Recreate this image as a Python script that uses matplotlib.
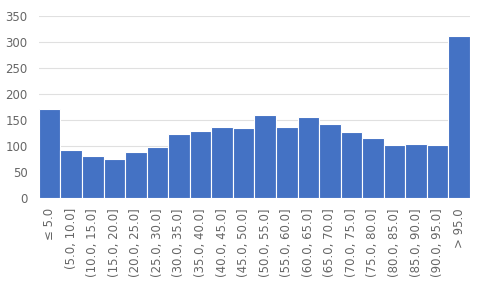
import numpy as np
import matplotlib.pyplot as plt

labels = ["\u2264 5.0", "(5.0, 10.0]", "(10.0, 15.0]", "(15.0, 20.0]", "(20.0, 25.0]",
          "(25.0, 30.0]", "(30.0, 35.0]", "(35.0, 40.0]", "(40.0, 45.0]", "(45.0, 50.0]",
          "(50.0, 55.0]", "(55.0, 60.0]", "(60.0, 65.0]", "(65.0, 70.0]", "(70.0, 75.0]",
          "(75.0, 80.0]", "(80.0, 85.0]", "(85.0, 90.0]", "(90.0, 95.0]", "> 95.0"]
counts = [171, 93, 82, 76, 90, 98, 123, 129, 138, 136,
          160, 138, 156, 143, 127, 116, 103, 104, 103, 311]
yticks = [0, 50, 100, 150, 200, 250, 300, 350]

fig = plt.figure(figsize=(4.8, 2.88), dpi=100)
ax = fig.add_axes([0.081, 0.311, 0.898, 0.633])
x = np.arange(len(counts))
ax.bar(x, counts, width=1.0, color="#4472C4", edgecolor="white", linewidth=0.8, zorder=3)
ax.set_xlim(-0.5, len(counts) - 0.5)
ax.set_ylim(0, 350)
ax.set_yticks(yticks)
ax.set_xticks(x)
ax.set_xticklabels(labels, rotation=90)
ax.grid(axis="y", color="#e0e0e0", linewidth=0.8, zorder=0)
for s in ax.spines.values():
    s.set_visible(False)
ax.tick_params(length=0, colors="#666666", labelsize=8.5)
ax.tick_params(axis="y", pad=8)
ax.tick_params(axis="x", pad=7)
fig.savefig("out.png", dpi=100)
